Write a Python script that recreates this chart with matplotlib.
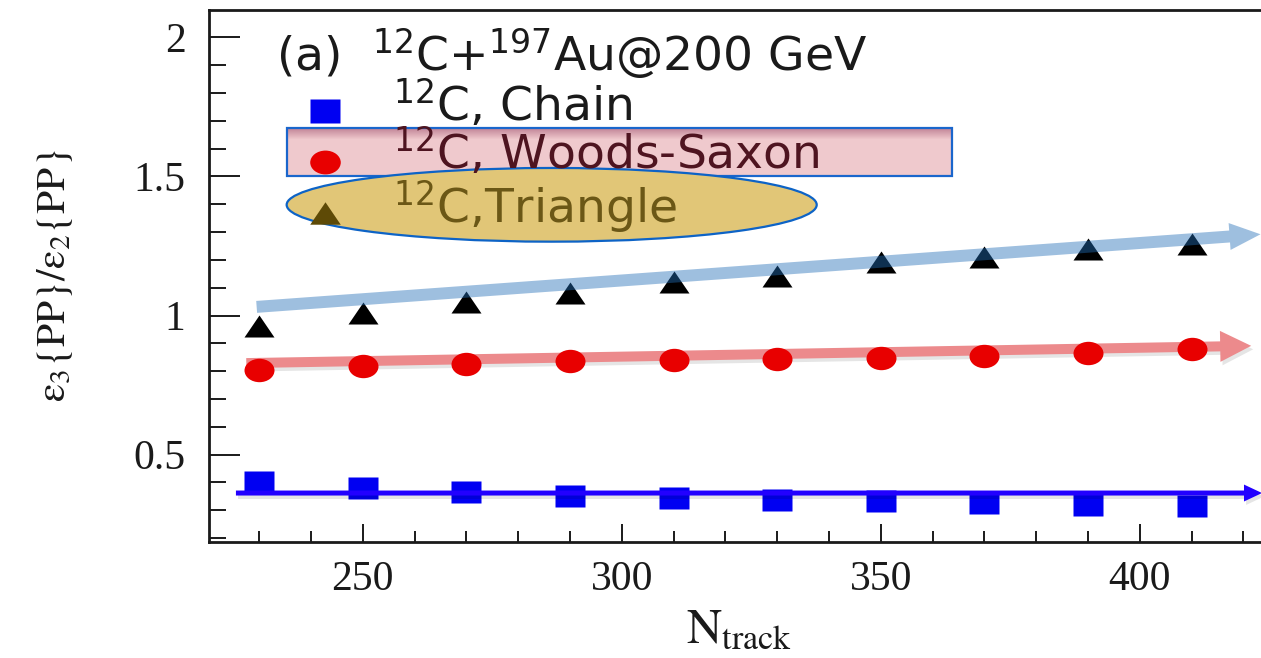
import numpy as np
import matplotlib
matplotlib.use("Agg")
import matplotlib.pyplot as plt
from matplotlib.path import Path
from matplotlib.transforms import Affine2D
from matplotlib.patches import Rectangle, Ellipse, FancyArrowPatch
from matplotlib.ticker import MultipleLocator
from matplotlib import patheffects as pe
from matplotlib.colors import to_rgb

# ---- data -------------------------------------------------------------
n_track = [230, 250, 270, 290, 310, 330, 350, 370, 390, 410]
ratio_chain = [0.401, 0.380, 0.365, 0.353, 0.344, 0.338, 0.332, 0.326, 0.318, 0.317]
ratio_woods_saxon = [0.805, 0.818, 0.825, 0.837, 0.840, 0.843, 0.847, 0.855, 0.865, 0.880]
ratio_triangle = [0.964, 1.010, 1.049, 1.082, 1.119, 1.142, 1.192, 1.211, 1.239, 1.256]

# trend arrows: (x_start, y_start, x_end, y_end)
trend_triangle = (229.5, 1.031, 423.3, 1.292)
trend_woods_saxon = (227.5, 0.829, 421.5, 0.891)
trend_chain = (225.5, 0.362, 423.6, 0.362)

x_ticks = [250, 300, 350, 400]
x_tick_labels = ["250", "300", "350", "400"]
y_ticks = [0.5, 1, 1.5, 2]
y_tick_labels = ["0.5", "1", "1.5", "2"]

title_text = r"(a)  $^{12}$C+$^{197}$Au@200 GeV"
entry_labels = [r"$^{12}$C, Chain", r"$^{12}$C, Woods-Saxon", r"$^{12}$C,Triangle"]

# ---- marker shapes (slightly wide) -------------------------------------
tri_marker = Path([(-0.5, -0.367), (0.5, -0.367), (0.0, 0.367), (-0.5, -0.367)],
                  [Path.MOVETO, Path.LINETO, Path.LINETO, Path.CLOSEPOLY])
sq_marker = Path([(-0.5, -0.38), (0.5, -0.38), (0.5, 0.38), (-0.5, 0.38), (-0.5, -0.38)],
                 [Path.MOVETO, Path.LINETO, Path.LINETO, Path.LINETO, Path.CLOSEPOLY])
circ_marker = Path.unit_circle().transformed(Affine2D().scale(0.5, 0.39))

# ---- figure -----------------------------------------------------------
fig = plt.figure(figsize=(12.61, 6.58), dpi=100)
ax = fig.add_axes([0.16574, 0.17629, 0.84084, 0.80851])
ax.set_xlim(220.3, 425)
ax.set_ylim(0.186, 2.098)

for side in ["left", "bottom", "top", "right"]:
    ax.spines[side].set_linewidth(2.0)
    ax.spines[side].set_color("#1a1a1a")

ax.set_xticks(x_ticks, x_tick_labels)
ax.set_yticks(y_ticks, y_tick_labels)
ax.xaxis.set_minor_locator(MultipleLocator(10))
ax.yaxis.set_minor_locator(MultipleLocator(0.1))
ax.tick_params(axis="both", which="both", direction="in", color="#1a1a1a",
               labelfontfamily="Liberation Serif", labelsize=30,
               labelcolor="#1a1a1a", top=False, right=False)
ax.tick_params(axis="y", which="major", length=22.3, width=1.4, pad=17)
ax.tick_params(axis="y", which="minor", length=12.2, width=1.4)
ax.tick_params(axis="x", which="major", length=13, width=1.4, pad=13)
ax.tick_params(axis="x", which="minor", length=7.9, width=1.4)

ax.set_ylabel(r"$\mathrm{ε}_{3}\{\mathrm{PP}\}/\mathrm{ε}_{2}\{\mathrm{PP}\}$",
              fontsize=30, math_fontfamily="stix", color="#1a1a1a", labelpad=42)
ax.set_xlabel(r"$\mathrm{N}_{\mathrm{track}}$", fontsize=35, math_fontfamily="stix",
              color="#1a1a1a", labelpad=4)

# ---- data markers -----------------------------------------------------
ms = 21.6
ax.plot(n_track, ratio_chain, ls="none", marker=sq_marker, ms=20.9,
        mfc="#0000f2", mec="none", zorder=3)
ax.plot(n_track, ratio_woods_saxon, ls="none", marker=circ_marker, ms=ms,
        mfc="#e80000", mec="none", zorder=3)
ax.plot(n_track, ratio_triangle, ls="none", marker=tri_marker, ms=ms,
        mfc="#000000", mec="none", zorder=3)


# ---- trend arrows -----------------------------------------------------
def trend_arrow(seg, color, alpha, tail, hwidth, hlength, z, shadow=True):
    x0, y0, x1, y1 = seg
    arr = FancyArrowPatch((x0, y0), (x1, y1),
                          arrowstyle=f"simple,head_length={hlength},"
                                     f"head_width={hwidth},tail_width={tail}",
                          mutation_scale=1, shrinkA=0, shrinkB=0,
                          facecolor=color, edgecolor="none", alpha=alpha,
                          zorder=z, clip_on=False)
    if shadow:
        arr.set_path_effects([pe.SimplePatchShadow(offset=(1.5, -2.5),
                                                   shadow_rgbFace="k", alpha=0.10),
                              pe.Normal()])
    ax.add_patch(arr)


trend_arrow(trend_woods_saxon, "#ec8a8c", 1.0, 7.2, 22.3, 22.3, 2)
trend_arrow(trend_triangle, "#226eb8", 0.44, 8.6, 19.4, 22.3, 4, shadow=False)
trend_arrow(trend_chain, "#2200ff", 1.0, 3.6, 12.2, 13.0, 4)

# ---- legend area ------------------------------------------------------
T = ax.transAxes
rx, ry, rw, rh = 0.0733, 0.688, 0.6272, 0.0897
ax.add_patch(Rectangle((rx, ry), rw, rh, transform=T, facecolor="#efc9cd",
                       edgecolor="none", zorder=5, clip_on=False))
# darker band fading down from the top edge
c_top = np.array(to_rgb("#c28597"))
c_bot = np.array(to_rgb("#efc9cd"))
nband = 12
band_h = 1.0 / 532
for i in range(nband):
    f = i / (nband - 1)
    ax.add_patch(Rectangle((rx, ry + rh - (i + 1) * band_h), rw, band_h, transform=T,
                           facecolor=tuple(c_top * (1 - f) + c_bot * f),
                           edgecolor="none", zorder=5, clip_on=False))
ax.add_patch(Rectangle((rx, ry), rw, rh, transform=T, facecolor="none",
                       edgecolor="#1a66cc", lw=1.6, zorder=5, clip_on=False))
ax.add_patch(Ellipse((0.3232, 0.6338), 0.4999, 0.1385, transform=T,
                     facecolor="#e1c677", edgecolor="#0d63c6", lw=1.6,
                     zorder=6, clip_on=False))

text_font = dict(family="DejaVu Sans", fontsize=34, va="baseline", ha="left",
                 transform=T, zorder=7)
ax.text(0.0632, 0.886, title_text, color="#1a1a1a", **text_font)
ax.text(0.1735, 0.793, entry_labels[0], color="#1a1a1a", **text_font)
ax.text(0.1735, 0.703, entry_labels[1], color="#4e1420", **text_font)
ax.text(0.1735, 0.6015, entry_labels[2], color="#6b5716", **text_font)

ax.plot([0.1094], [0.8107], transform=T, ls="none", marker=sq_marker, ms=22,
        mfc="#0000f2", mec="none", zorder=7, clip_on=False)
ax.plot([0.1094], [0.7148], transform=T, ls="none", marker=circ_marker, ms=22,
        mfc="#e80000", mec="none", zorder=7, clip_on=False)
ax.plot([0.1094], [0.6184], transform=T, ls="none", marker=tri_marker, ms=22,
        mfc="#5e4a06", mec="none", zorder=7, clip_on=False)

fig.savefig("out.png", dpi=100, facecolor="white")
